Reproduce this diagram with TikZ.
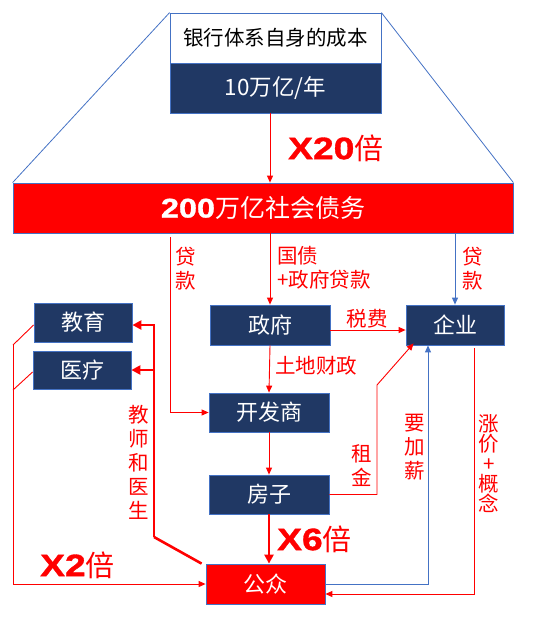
\documentclass[tikz,border=0pt]{standalone}
\usepackage{fontspec}
\setmainfont{Liberation Sans}
\newfontfamily\cjk{Noto Sans CJK SC}
\newfontfamily\blk{Liberation Sans}[FakeStretch=1.2,BoldFeatures={FakeBold=1.2}]
\usetikzlibrary{arrows.meta}
\definecolor{navy}{HTML}{203864}
\definecolor{pblue}{HTML}{4472C4}
\definecolor{pred}{HTML}{FF0000}
\begin{document}
\begin{tikzpicture}[x=1pt,y=-1pt,
  box/.style={draw=pblue, fill=navy, text=white, line width=0.8pt, inner sep=0pt,
    font=\cjk\fontsize{22}{26}\selectfont},
  lab/.style={text=pred, inner sep=0pt, align=center, font=\cjk\fontsize{20.5}{24}\selectfont},
  ra/.style={draw=pred, line width=0.9pt, -{Triangle[length=7pt,width=6pt]}},
  rl/.style={draw=pred, line width=0.9pt},
  ba/.style={draw=pblue, line width=0.9pt, -{Triangle[length=7pt,width=6pt]}},
  tk/.style={draw=pred, line width=2.6pt, -{Triangle[length=9pt,width=9pt]}},
  big/.style={text=pred, inner sep=0pt, anchor=west}
]
\useasboundingbox (0,0) rectangle (542,625);

% top boxes
\node[box, fill=white, text=black, minimum width=211pt, minimum height=50pt,
  font=\cjk\fontsize{20.5}{24}\selectfont] (top1) at (275.5,38) {银行体系自身的成本};
\node[box, minimum width=211pt, minimum height=50pt,
  font=\cjk\fontsize{22.5}{26}\selectfont] (top2) at (275.5,88) {10万亿/年};
\node[box, fill=pred, minimum width=500pt, minimum height=50pt,
  font=\fontsize{25}{30}\selectfont] (band) at (263,208) {{\blk\bfseries\fontsize{27}{30}\selectfont 200}{\cjk 万亿社会债务}};

% trapezoid sides
\draw[pblue, line width=0.8pt] (top1.north west) -- (band.north west);
\draw[pblue, line width=0.8pt] (top1.north east) -- (band.north east);

% boxes
\node[box, minimum width=98pt, minimum height=39pt] (jiaoyu) at (83,322.5) {教育};
\node[box, minimum width=98pt, minimum height=38pt] (yiliao) at (82,370) {医疗};
\node[box, minimum width=120pt, minimum height=40pt] (zhengfu) at (270,325) {政府};
\node[box, minimum width=98pt, minimum height=40pt] (qiye) at (455,325) {企业};
\node[box, minimum width=120pt, minimum height=39pt] (kfs) at (269,412.5) {开发商};
\node[box, minimum width=120pt, minimum height=39pt] (fangzi) at (269,494.5) {房子};
\node[box, fill=pred, minimum width=119pt, minimum height=40pt] (gz) at (265.5,584) {公众};

% helper coordinates
\coordinate (dk) at (170,237);
\coordinate (rj) at (377,385);
\coordinate (x2a) at (13,345);
\coordinate (x2b) at (13,390);
\coordinate (tv) at (154,537);

% connectors
\draw[ra] (top2.south -| zhengfu) -- (band.north -| zhengfu);
\draw[ra] (dk) |- (kfs.west);
\draw[ra] (band.south -| zhengfu) -- (zhengfu.north);
\draw[ba] (band.south -| qiye) -- (qiye.north);
\draw[ra] ([yshift=-5pt]zhengfu.east) -- ([yshift=-5pt]zhengfu.east -| qiye.west);
\draw[ra] (zhengfu.south) -- (kfs.north);
\draw[ra] (kfs.south) -- (fangzi.north);
\draw[tk] (fangzi.south) -- (gz.north -| fangzi.south);
\draw[ra] (fangzi.east) -| (rj) -- ([xshift=8pt,yshift=2pt]qiye.south west);
\draw[ba] (gz.east) -| ([xshift=-27pt]qiye.south);
\draw[ra] ([xshift=19pt,yshift=-3pt]qiye.south) |- ([yshift=-10pt]gz.east);
\draw[rl] ([yshift=-2.5pt]jiaoyu.west) -- (x2a);
\draw[rl] ([yshift=-2pt]yiliao.west) -- (x2b);
\draw[ra] (x2a) |- (gz.west);
\draw[draw=pred, line width=2.6pt] ([xshift=-4pt]gz.north west) -- (tv);
\draw[tk] (tv) |- ([yshift=-2.5pt]jiaoyu.east);
\draw[tk] (tv |- yiliao.east) -- (yiliao.east);

% labels
\node[big] (x20) at (288,148) {{\blk\bfseries\fontsize{31}{31}\selectfont X20}{\cjk\fontsize{29}{31}\selectfont 倍}};
\node[big] (x6) at (277,539) {{\blk\bfseries\fontsize{31}{31}\selectfont X6}{\cjk\fontsize{29}{31}\selectfont 倍}};
\node[big] (x2) at (40,565) {{\blk\bfseries\fontsize{31}{31}\selectfont X2}{\cjk\fontsize{29}{31}\selectfont 倍}};
\node[lab] (l1) at (186,269) {贷\\款};
\node[lab, align=left, anchor=west] (l2) at (277,268) {国债\\+政府贷款};
\node[lab] (l3) at (473,269) {贷\\款};
\node[lab] (l4) at (367,319) {税费};
\node[lab] (l5) at (316,366) {土地财政};
\node[lab, font=\cjk\fontsize{20.5}{24}\selectfont] (l6) at (139,462) {教\\师\\和\\医\\生};
\node[lab] (l7) at (362,466) {租\\金};
\node[lab] (l8) at (415,447) {要\\加\\薪};
\node[lab, font=\cjk\fontsize{20.5}{20}\selectfont] (l9) at (489,464) {涨\\价\\+\\概\\念};
\end{tikzpicture}
\end{document}
